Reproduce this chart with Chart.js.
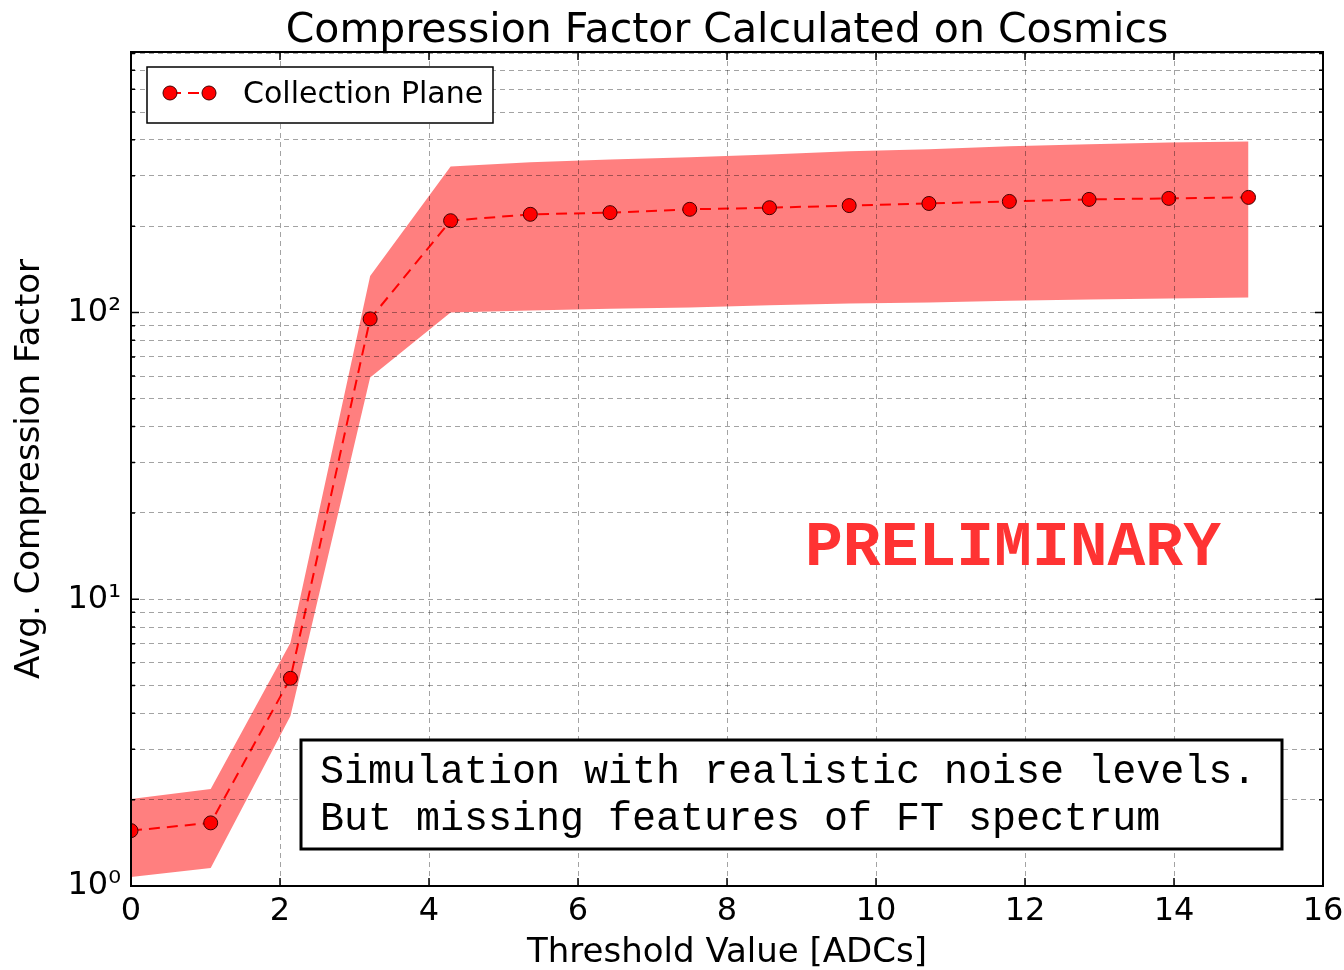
<!DOCTYPE html>
<html>
<head>
<meta charset="utf-8">
<script src="https://cdn.jsdelivr.net/npm/chart.js@4"></script>
<style>
  html, body { margin: 0; padding: 0; background: #fff; }
</style>
</head>
<body>
<canvas id="chart" width="1344" height="970"></canvas>
<script>
// threshold values (x) and compression factor
const thresholds = [0, 1.07, 2.14, 3.21, 4.29, 5.36, 6.43, 7.5, 8.57, 9.64, 10.71, 11.79, 12.86, 13.93, 15];
const avgFactor = [1.56, 1.66, 5.3, 95, 209, 220, 223, 229, 232, 236, 240, 244, 248, 250, 252];
const upperBand = [2.01, 2.18, 7.05, 134, 323, 334, 342, 348, 356, 365, 371, 380, 386, 392, 395];
const lowerBand = [1.075, 1.156, 3.92, 59.3, 100, 101.6, 103, 104, 106, 107.5, 108.4, 110, 111, 112, 112.8];

const xTicks = [0, 2, 4, 6, 8, 10, 12, 14, 16];
const yTicks = [1, 2, 3, 4, 5, 6, 7, 8, 9, 10, 20, 30, 40, 50, 60, 70, 80, 90, 100, 200, 300, 400, 500, 600, 700, 800];
const yMajorLabels = { 1: '10\u2070', 10: '10\u00B9', 100: '10\u00B2' };

const chartTitle = 'Compression Factor Calculated on Cosmics';
const noteLines = ['Simulation with realistic noise levels.', 'But missing features of FT spectrum'];

const pts = ys => thresholds.map((x, i) => ({ x: x, y: ys[i] }));

const sans = '"DejaVu Sans", sans-serif';
const mono = '"Liberation Mono", "Courier New", monospace';
const gridColor = 'rgba(0, 0, 0, 0.36)';

// title, frame, inner ticks, legend and text boxes
const decorations = {
  id: 'decorations',
  afterDraw(chart) {
    const { ctx, chartArea: a, scales } = chart;
    ctx.save();

    // inner tick marks like matplotlib
    ctx.strokeStyle = '#000';
    ctx.lineWidth = 1.5;
    xTicks.forEach(v => {
      const px = scales.x.getPixelForValue(v);
      ctx.beginPath();
      ctx.moveTo(px, a.bottom); ctx.lineTo(px, a.bottom - 8);
      ctx.moveTo(px, a.top); ctx.lineTo(px, a.top + 8);
      ctx.stroke();
    });
    yTicks.forEach(v => {
      const py = scales.y.getPixelForValue(v);
      const len = yMajorLabels[v] ? 8 : 4;
      ctx.beginPath();
      ctx.moveTo(a.left, py); ctx.lineTo(a.left + len, py);
      ctx.moveTo(a.right, py); ctx.lineTo(a.right - len, py);
      ctx.stroke();
    });

    // frame
    ctx.lineWidth = 2;
    ctx.strokeRect(a.left, a.top, a.right - a.left, a.bottom - a.top);

    // title
    ctx.fillStyle = '#000';
    ctx.font = '41px ' + sans;
    ctx.textAlign = 'center';
    ctx.textBaseline = 'alphabetic';
    ctx.fillText(chartTitle, (a.left + a.right) / 2, a.top - 10);

    // legend
    const lx = a.left + 16, ly = a.top + 15;
    ctx.fillStyle = '#fff';
    ctx.fillRect(lx, ly, 346, 56);
    ctx.lineWidth = 1.5;
    ctx.strokeStyle = '#000';
    ctx.strokeRect(lx, ly, 346, 56);
    const my = ly + 26;
    ctx.strokeStyle = '#ff0000';
    ctx.lineWidth = 2;
    ctx.setLineDash([11, 7]);
    ctx.beginPath();
    ctx.moveTo(lx + 23, my); ctx.lineTo(lx + 62, my);
    ctx.stroke();
    ctx.setLineDash([]);
    [lx + 23, lx + 62].forEach(cx => {
      ctx.beginPath();
      ctx.arc(cx, my, 7, 0, Math.PI * 2);
      ctx.fillStyle = '#ff0000';
      ctx.fill();
      ctx.lineWidth = 1;
      ctx.strokeStyle = '#400000';
      ctx.stroke();
    });
    ctx.fillStyle = '#000';
    ctx.font = '30px ' + sans;
    ctx.textAlign = 'left';
    ctx.fillText(chart.data.datasets[0].label, lx + 96, ly + 36);

    // PRELIMINARY stamp
    ctx.fillStyle = '#ff3333';
    ctx.font = 'bold 63px ' + mono;
    ctx.textAlign = 'center';
    ctx.fillText('PRELIMINARY', a.left + 882, a.top + 513);

    // note box
    const bx = a.left + 170, by = a.top + 688;
    ctx.fillStyle = '#fff';
    ctx.fillRect(bx, by, 981, 109);
    ctx.lineWidth = 3;
    ctx.strokeStyle = '#000';
    ctx.strokeRect(bx, by, 981, 109);
    ctx.fillStyle = '#000';
    ctx.font = '40px ' + mono;
    ctx.textAlign = 'left';
    ctx.fillText(noteLines[0], bx + 19, by + 43);
    ctx.fillText(noteLines[1], bx + 19, by + 90);

    ctx.restore();
  }
};

new Chart(document.getElementById('chart').getContext('2d'), {
  type: 'line',
  data: {
    datasets: [
      {
        label: 'Collection Plane',
        data: pts(avgFactor),
        borderColor: '#ff0000',
        borderWidth: 2,
        borderDash: [11, 7],
        pointRadius: 7,
        pointBackgroundColor: '#ff0000',
        pointBorderColor: '#400000',
        pointBorderWidth: 1,
        tension: 0,
        fill: false,
        order: 0
      },
      {
        label: 'upper',
        data: pts(upperBand),
        borderWidth: 0,
        pointRadius: 0,
        backgroundColor: 'rgba(255, 0, 0, 0.5)',
        fill: '+1',
        tension: 0,
        order: 1
      },
      {
        label: 'lower',
        data: pts(lowerBand),
        borderWidth: 0,
        pointRadius: 0,
        fill: false,
        tension: 0,
        order: 1
      }
    ]
  },
  options: {
    responsive: false,
    animation: false,
    devicePixelRatio: 1,
    layout: { padding: { top: 52, right: 21, left: 0, bottom: 0 } },
    plugins: {
      legend: { display: false },
      tooltip: { enabled: false },
      title: { display: false }
    },
    scales: {
      x: {
        type: 'linear',
        min: 0,
        max: 16,
        afterBuildTicks: s => { s.ticks = xTicks.map(v => ({ value: v })); },
        afterFit: s => { s.height = 84; s.paddingLeft = 0; s.paddingRight = 0; },
        ticks: { color: '#000', font: { family: sans, size: 32 }, padding: 6, maxRotation: 0, autoSkip: false },
        grid: { z: 1, color: gridColor, lineWidth: 1, drawTicks: false },
        border: { display: false, dash: [5, 4] },
        title: {
          display: true,
          text: 'Threshold Value [ADCs]',
          color: '#000',
          font: { family: sans, size: 34, lineHeight: 1.0 },
          padding: { top: 0, bottom: 0 }
        }
      },
      y: {
        type: 'logarithmic',
        min: 1,
        max: 810,
        afterBuildTicks: s => { s.ticks = yTicks.map(v => ({ value: v })); },
        afterFit: s => { s.width = 131; s.paddingTop = 0; s.paddingBottom = 0; },
        ticks: {
          color: '#000',
          font: { family: sans, size: 32 },
          padding: 10,
          autoSkip: false,
          callback: v => yMajorLabels[v] || ''
        },
        grid: { z: 1, color: gridColor, lineWidth: 1, drawTicks: false },
        border: { display: false, dash: [5, 4] },
        title: {
          display: true,
          text: 'Avg. Compression Factor',
          color: '#000',
          font: { family: sans, size: 34 },
          padding: { top: 10, bottom: 0 }
        }
      }
    }
  },
  plugins: [decorations]
});
</script>
</body>
</html>
